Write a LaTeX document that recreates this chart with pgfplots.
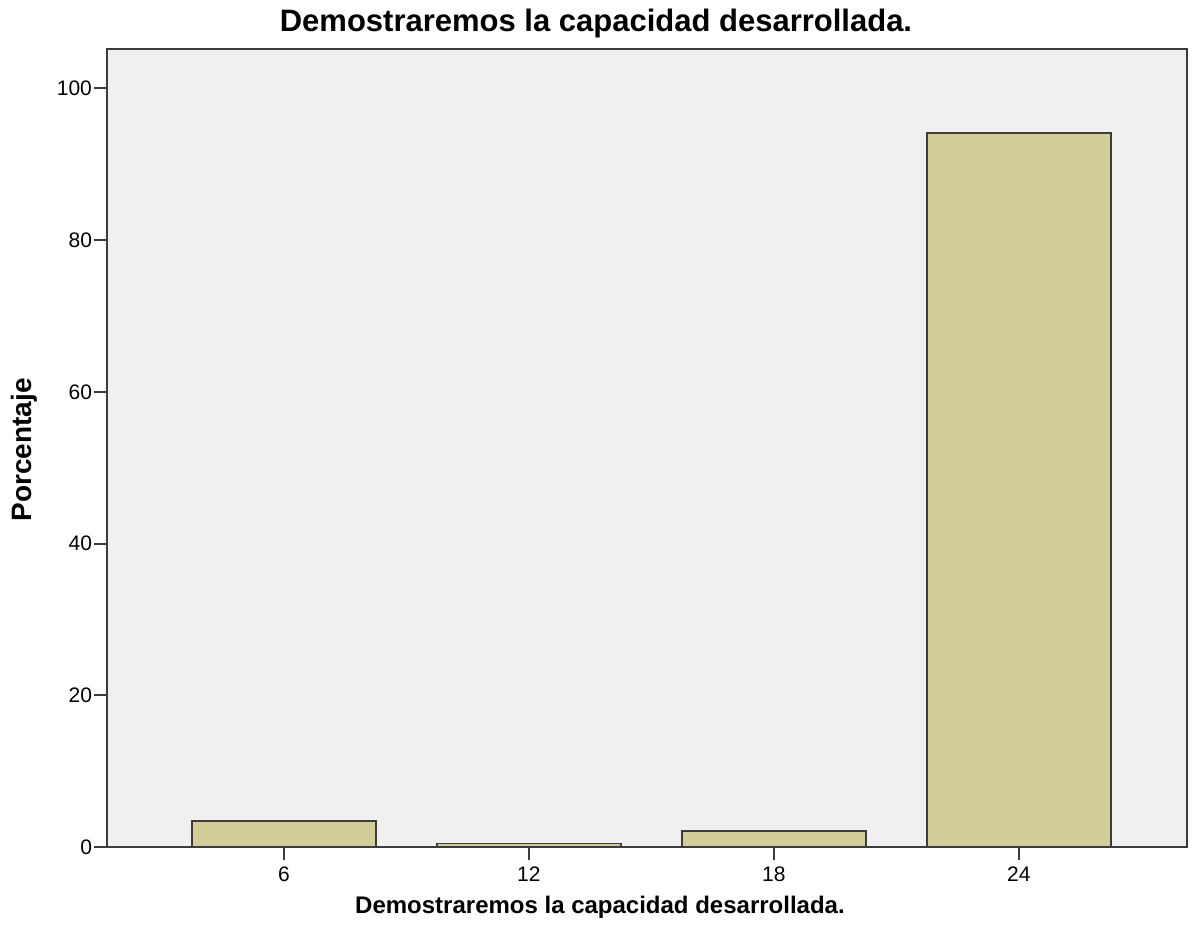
\documentclass[border=0pt]{standalone}
\usepackage{pgfplots}
\pgfplotsset{compat=1.18}
\usepackage{fontspec}
\setmainfont{Liberation Sans}
\definecolor{bg}{HTML}{F0F0F0}
\definecolor{barfill}{HTML}{D3CE97}
\definecolor{edge}{HTML}{3C3C3C}

\begin{document}
\begin{tikzpicture}
\useasboundingbox (0pt,0pt) rectangle (600pt,469pt);
\begin{axis}[
  at={(53.5pt,45.5pt)}, anchor=south west,
  scale only axis, width=540pt, height=399pt,
  xmin=-0.722, xmax=3.686, ymin=0, ymax=105.2,
  xtick={0,1,2,3}, xticklabels={6,12,18,24},
  ytick={0,20,40,60,80,100},
  tick align=outside, major tick length=6.5pt,
  tick pos=left,
  tick style={edge, line width=1pt},
  axis background/.style={fill=bg},
  axis line style={edge, line width=0.9pt},
  ticklabel style={font=\fontsize{10.5}{12}\selectfont},
  yticklabel style={xshift=2.5pt},
  /pgf/number format/assume math mode=true,
  ybar, bar width=0.75,
]
\addplot[fill=barfill, draw=edge, line width=0.8pt] coordinates {(0,3.4) (1,0.45) (2,2.1) (3,94.1)};
\end{axis}
\node[font=\bfseries\fontsize{15.5}{18}\selectfont] at (298pt,457.5pt) {Demostraremos la capacidad desarrollada.};
\node[font=\bfseries\fontsize{12}{14}\selectfont] at (300pt,15.5pt) {Demostraremos la capacidad desarrollada.};
\node[font=\bfseries\fontsize{14}{16}\selectfont, rotate=90] at (12pt,244pt) {Porcentaje};
\end{tikzpicture}
\end{document}
